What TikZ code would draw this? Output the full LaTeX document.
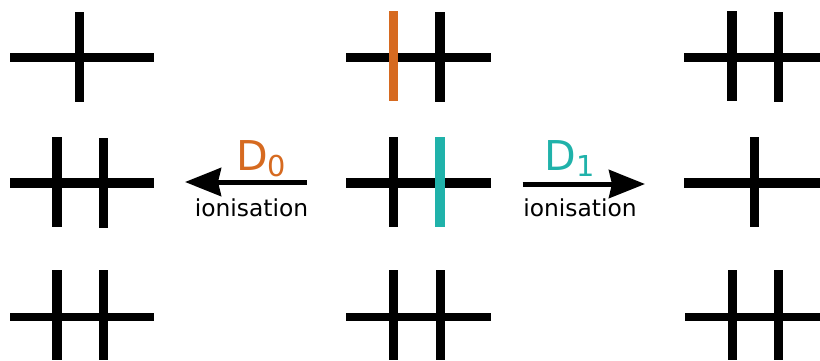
\documentclass[tikz,border=0pt]{standalone}
\usepackage{fontspec}
\setmainfont{DejaVu Sans}
\usetikzlibrary{arrows.meta}
\definecolor{dzero}{RGB}{214,106,32}
\definecolor{done}{RGB}{32,178,170}
\begin{document}
\begin{tikzpicture}[
  x=0.02cm, y=-0.02cm,
  hbar/.style={line width=0.19cm},
  hbarthin/.style={line width=0.155cm},
  vbar/.style={line width=0.19cm},
  arrow/.style={-{Stealth[length=0.72cm, width=0.56cm, inset=0.06cm]}, line width=0.1cm},
  dlabel/.style={font=\fontsize{23.4}{28}\selectfont, anchor=base, inner sep=0pt},
  ilabel/.style={font=\fontsize{13.3}{16}\selectfont, anchor=base, inner sep=0pt}
]
\useasboundingbox (0,0) rectangle (820,360);
% top row
\draw[hbar] (10,57.5) -- (154,57.5);
\draw[vbar] (79.5,12) -- (79.5,102);
\draw[hbar] (346,57.5) -- (491,57.5);
\draw[vbar, dzero] (393.5,11) -- (393.5,101);
\draw[vbar] (440,12) -- (440,102);
\draw[hbar] (684,57.5) -- (820,57.5);
\draw[vbar] (732,11) -- (732,101);
\draw[vbar] (778.5,12) -- (778.5,102);
% middle row
\draw[hbar] (10,183) -- (154,183);
\draw[vbar] (57,137) -- (57,227);
\draw[vbar] (103.3,138) -- (103.3,228);
\draw[hbar] (346,183) -- (491,183);
\draw[vbar] (393.5,137) -- (393.5,227);
\draw[vbar, done] (440,137) -- (440,227);
\draw[hbar] (684,183) -- (820,183);
\draw[vbar] (754.7,137) -- (754.7,227);
% bottom row
\draw[hbarthin] (10,317) -- (154,317);
\draw[vbar] (57,270) -- (57,360);
\draw[vbar] (103.3,270) -- (103.3,360);
\draw[hbarthin] (346,317) -- (491,317);
\draw[vbar] (393.3,270) -- (393.3,360);
\draw[vbar] (440.3,270) -- (440.3,360);
\draw[hbarthin] (685,317) -- (820,317);
\draw[vbar] (732.3,270) -- (732.3,360);
\draw[vbar] (778.3,270) -- (778.3,360);
% ionisation arrows
\coordinate (lstart) at (306.7,182);
\coordinate (lend) at (185,182);
\coordinate (rstart) at (522.7,184);
\coordinate (rend) at (645,184);
\draw[arrow] (lstart) -- (lend);
\draw[arrow] (rstart) -- (rend);
\node[dlabel, dzero] (dz) at (261.5,170) {D\textsubscript{0}};
\node[ilabel] (ionl) at (251.5,216.7) {ionisation};
\node[dlabel, done] (dn) at (570,170) {D\textsubscript{1}};
\node[ilabel] (ionr) at (580,216.7) {ionisation};
\end{tikzpicture}
\end{document}
